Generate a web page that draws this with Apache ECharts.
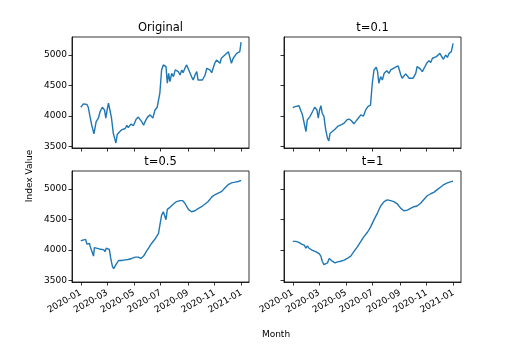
<!DOCTYPE html>
<html>
<head>
<meta charset="utf-8">
<script src="https://cdn.jsdelivr.net/npm/echarts@6/dist/echarts.min.js"></script>
<style>
  html, body { margin: 0; padding: 0; background: #fff; }
  #chart { width: 507px; height: 352px; }
</style>
</head>
<body>
<div id="chart"></div>
<script>
// values
const originalDates = ["2020-01-01","2020-01-04","2020-01-07","2020-01-11","2020-01-15","2020-01-18","2020-01-22","2020-01-26","2020-01-31","2020-02-05","2020-02-10","2020-02-14","2020-02-19","2020-02-24","2020-02-27","2020-03-01","2020-03-04","2020-03-08","2020-03-11","2020-03-15","2020-03-19","2020-03-21","2020-03-24","2020-03-29","2020-04-03","2020-04-07","2020-04-11","2020-04-15","2020-04-18","2020-04-24","2020-04-30","2020-05-06","2020-05-11","2020-05-15","2020-05-19","2020-05-23","2020-05-26","2020-06-01","2020-06-07","2020-06-13","2020-06-18","2020-06-23","2020-06-27","2020-06-29","2020-07-03","2020-07-07","2020-07-11","2020-07-13","2020-07-16","2020-07-19","2020-07-22","2020-07-26","2020-07-30","2020-08-03","2020-08-06","2020-08-10","2020-08-14","2020-08-18","2020-08-21","2020-08-25","2020-08-29","2020-09-02","2020-09-06","2020-09-09","2020-09-13","2020-09-17","2020-09-21","2020-09-24","2020-09-28","2020-10-04","2020-10-10","2020-10-14","2020-10-17","2020-10-21","2020-10-25","2020-10-29","2020-11-01","2020-11-05","2020-11-09","2020-11-13","2020-11-16","2020-11-20","2020-11-24","2020-11-28","2020-12-02","2020-12-06","2020-12-09","2020-12-13","2020-12-17","2020-12-21","2020-12-25","2020-12-28","2020-12-31"];
const originalValues = [4145,4160,4200,4175,4190,4145,3992,3850,3710,3910,3965,4075,4145,4100,3965,4100,4210,4075,3965,3720,3611,3560,3700,3740,3775,3750,3797,3850,3810,3870,3845,3950,3983,3967,3905,3850,3905,3983,4020,3967,4100,4145,4130,4374,4755,4837,4864,4810,4537,4700,4564,4700,4646,4755,4766,4727,4673,4755,4710,4782,4837,4837,4700,4646,4590,4673,4727,4590,4565,4590,4673,4782,4810,4755,4710,4700,4864,4918,4890,4864,4946,4918,5000,4973,5054,5027,4864,4946,4918,5027,5000,5054,5210];

const t01Dates = ["2020-01-01","2020-01-06","2020-01-10","2020-01-15","2020-01-19","2020-01-23","2020-01-27","2020-01-31","2020-02-03","2020-02-09","2020-02-15","2020-02-20","2020-02-25","2020-02-28","2020-03-02","2020-03-05","2020-03-08","2020-03-12","2020-03-16","2020-03-20","2020-03-23","2020-03-26","2020-03-31","2020-04-06","2020-04-12","2020-04-16","2020-04-21","2020-04-27","2020-05-03","2020-05-08","2020-05-13","2020-05-19","2020-05-23","2020-05-29","2020-06-04","2020-06-10","2020-06-15","2020-06-20","2020-06-26","2020-06-30","2020-07-04","2020-07-09","2020-07-12","2020-07-15","2020-07-19","2020-07-23","2020-07-27","2020-08-02","2020-08-07","2020-08-11","2020-08-17","2020-08-22","2020-08-28","2020-09-03","2020-09-06","2020-09-10","2020-09-14","2020-09-18","2020-09-22","2020-09-25","2020-10-01","2020-10-07","2020-10-10","2020-10-16","2020-10-22","2020-10-26","2020-11-01","2020-11-06","2020-11-10","2020-11-14","2020-11-17","2020-11-23","2020-11-26","2020-12-01","2020-12-04","2020-12-09","2020-12-14","2020-12-18","2020-12-22","2020-12-27","2020-12-30","2020-12-31"];
const t01Values = [4139,4155,4178,4170,4145,4020,3883,3747,3937,3992,4075,4145,4100,3965,4100,4170,4047,3992,3775,3638,3594,3720,3747,3786,3830,3820,3860,3885,3937,3950,3928,3874,3910,3965,4020,4000,4100,4155,4180,4537,4755,4800,4727,4537,4646,4590,4700,4743,4700,4755,4782,4800,4820,4673,4620,4646,4690,4700,4620,4590,4620,4700,4810,4782,4727,4727,4864,4908,4875,4946,4930,4973,4946,5027,4985,4930,5000,4960,5027,5054,5070,5190];

const t05Dates = ["2020-01-01","2020-01-06","2020-01-09","2020-01-12","2020-01-15","2020-01-18","2020-01-21","2020-01-22","2020-01-26","2020-01-30","2020-02-01","2020-02-05","2020-02-10","2020-02-15","2020-02-22","2020-02-25","2020-02-28","2020-03-02","2020-03-06","2020-03-09","2020-03-13","2020-03-16","2020-03-19","2020-03-21","2020-03-27","2020-04-03","2020-04-11","2020-04-18","2020-04-26","2020-05-04","2020-05-11","2020-05-17","2020-05-23","2020-05-29","2020-06-03","2020-06-10","2020-06-18","2020-06-26","2020-06-29","2020-07-03","2020-07-07","2020-07-11","2020-07-13","2020-07-16","2020-07-20","2020-07-22","2020-07-30","2020-08-06","2020-08-14","2020-08-20","2020-08-25","2020-09-02","2020-09-09","2020-09-17","2020-09-25","2020-10-02","2020-10-10","2020-10-17","2020-10-25","2020-11-01","2020-11-09","2020-11-17","2020-11-24","2020-12-02","2020-12-09","2020-12-17","2020-12-25","2020-12-31"];
const t05Values = [4153,4164,4181,4175,4097,4125,4108,4069,3985,3902,4041,4030,4025,4013,4008,3974,4030,4008,4013,3874,3735,3696,3707,3763,3829,3829,3840,3846,3863,3885,3885,3863,3902,3974,4030,4108,4181,4275,4404,4571,4627,4599,4498,4666,4654,4699,4755,4794,4810,4810,4766,4666,4627,4643,4682,4710,4755,4794,4866,4905,4933,4961,5017,5072,5100,5111,5123,5139];

const t1Dates = ["2020-01-01","2020-01-08","2020-01-15","2020-01-21","2020-01-27","2020-01-31","2020-02-03","2020-02-07","2020-02-15","2020-02-22","2020-03-01","2020-03-05","2020-03-08","2020-03-12","2020-03-16","2020-03-20","2020-03-24","2020-03-27","2020-03-31","2020-04-06","2020-04-12","2020-04-19","2020-04-27","2020-05-04","2020-05-12","2020-05-19","2020-05-27","2020-06-04","2020-06-11","2020-06-19","2020-06-26","2020-07-04","2020-07-12","2020-07-19","2020-07-27","2020-08-03","2020-08-11","2020-08-18","2020-08-26","2020-09-03","2020-09-10","2020-09-18","2020-09-25","2020-10-03","2020-10-10","2020-10-18","2020-10-26","2020-11-02","2020-11-10","2020-11-17","2020-11-25","2020-12-03","2020-12-10","2020-12-18","2020-12-25","2020-12-31"];
const t1Values = [4142,4142,4125,4097,4080,4030,4069,4030,3997,3974,3941,3902,3818,3763,3751,3791,3863,3863,3818,3791,3807,3818,3835,3863,3902,3974,4052,4142,4220,4292,4376,4498,4610,4721,4794,4822,4810,4794,4755,4682,4643,4654,4682,4710,4721,4766,4833,4889,4922,4944,4989,5033,5072,5100,5117,5128];

const panelTitles = ["Original", "t=0.1", "t=0.5", "t=1"];
const xTickMonths = ["2020-01-01","2020-03-01","2020-05-01","2020-07-01","2020-09-01","2020-11-01","2021-01-01"];
const yTickValues = [3500, 4000, 4500, 5000];

const chart = echarts.init(document.getElementById("chart"));

// dates become plain numbers (ms) so the value axis can take custom tick spots
function localTime(s) {
  const p = s.split("-").map(Number);
  return new Date(p[0], p[1] - 1, p[2]).getTime();
}

const xMin = localTime("2019-12-12");
const xMax = localTime("2021-01-18");
const yMin = 3478;
const yMax = 5294;
const xTicks = xTickMonths.map(localTime);

const panels = [
  { dates: originalDates, values: originalValues, left: 72, top: 37 },
  { dates: t01Dates, values: t01Values, left: 284, top: 37 },
  { dates: t05Dates, values: t05Values, left: 72, top: 171 },
  { dates: t1Dates, values: t1Values, left: 284, top: 171 },
];

const lineStyle = { color: "#000", width: 0.8 };
const font = "DejaVu Sans";

const grid = panels.map((p) => ({
  left: p.left, top: p.top, width: 177, height: 111,
  show: true, borderColor: "#000", borderWidth: 0.8, backgroundColor: "transparent",
}));

const xAxis = panels.map((p, i) => ({
  type: "value", gridIndex: i, min: xMin, max: xMax, scale: true,
  axisLine: { show: true, onZero: false, lineStyle },
  axisTick: { show: true, length: 3.5, lineStyle, customValues: xTicks },
  splitLine: { show: false },
  axisLabel: {
    show: i >= 2, customValues: xTicks, rotate: 30, margin: 10,
    fontSize: 9, color: "#000", fontFamily: font,
    formatter: (v) => {
      const d = new Date(v);
      return d.getFullYear() + "-" + String(d.getMonth() + 1).padStart(2, "0");
    },
  },
}));

const yAxis = panels.map((p, i) => ({
  type: "value", gridIndex: i, min: yMin, max: yMax,
  axisLine: { show: true, lineStyle },
  axisTick: { show: true, length: 3.5, lineStyle, customValues: yTickValues },
  splitLine: { show: false },
  axisLabel: {
    show: i % 2 === 0, customValues: yTickValues, margin: 5,
    fontSize: 9, color: "#000", fontFamily: font,
    formatter: (v) => String(v),
  },
}));

const series = panels.map((p, i) => ({
  type: "line", xAxisIndex: i, yAxisIndex: i,
  showSymbol: false,
  lineStyle: { color: "#1f77b4", width: 1.4 },
  data: p.dates.map((d, j) => [localTime(d), p.values[j]]),
}));

const graphic = panels.map((p, i) => ({
  type: "text", x: p.left + 88.5, y: p.top - 3,
  style: { text: panelTitles[i], font: "11.5px " + font, fill: "#000", textAlign: "center", textVerticalAlign: "bottom" },
}));
graphic.push({
  type: "text", x: 30, y: 176, rotation: Math.PI / 2,
  style: { text: "Index Value", font: "9px " + font, fill: "#000", textAlign: "center", textVerticalAlign: "middle" },
});
graphic.push({
  type: "text", x: 276, y: 335,
  style: { text: "Month", font: "9px " + font, fill: "#000", textAlign: "center", textVerticalAlign: "middle" },
});

chart.setOption({
  animation: false,
  backgroundColor: "#fff",
  grid, xAxis, yAxis, series, graphic,
});
</script>
</body>
</html>
